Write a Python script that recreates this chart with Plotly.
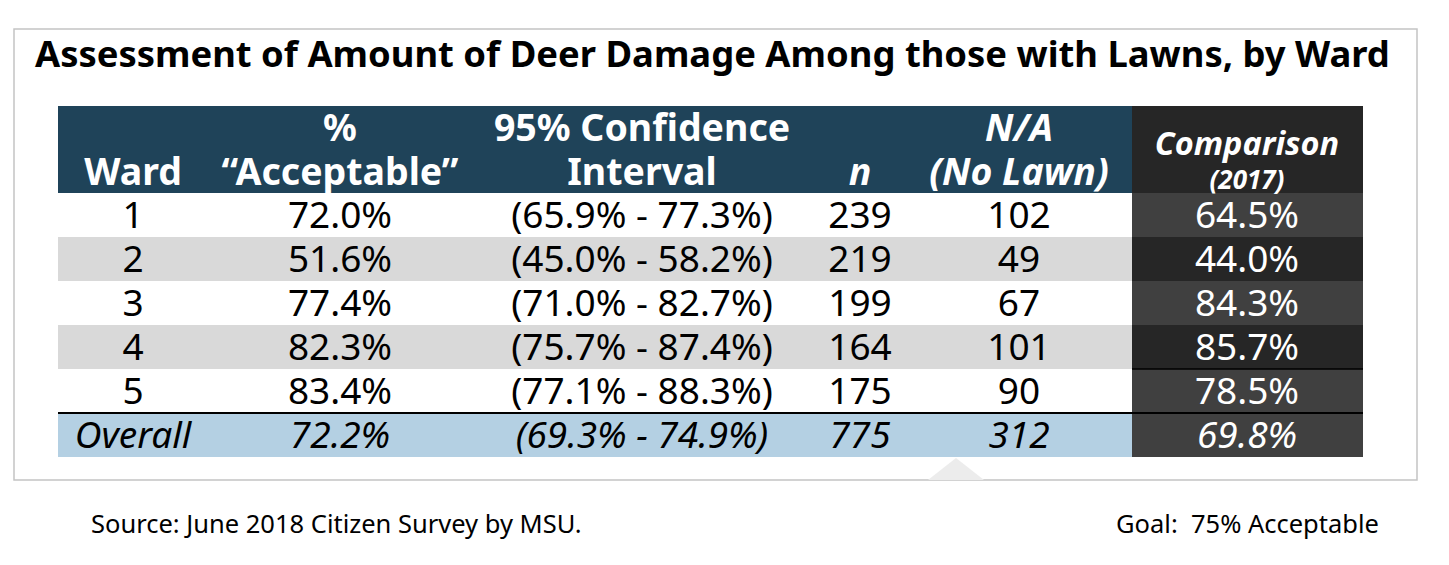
import plotly.graph_objects as go

# ---------------- data ----------------
wards = ["1", "2", "3", "4", "5", "Overall"]
pct_acceptable = [72.0, 51.6, 77.4, 82.3, 83.4, 72.2]
ci_low = [65.9, 45.0, 71.0, 75.7, 77.1, 69.3]
ci_high = [77.3, 58.2, 82.7, 87.4, 88.3, 74.9]
n_resp = [239, 219, 199, 164, 175, 775]
na_no_lawn = [102, 49, 67, 101, 90, 312]
comparison_2017 = [64.5, 44.0, 84.3, 85.7, 78.5, 69.8]

header_line1 = ["", "%", "95% Confidence", "", "N/A", "Comparison"]
header_line2 = ["Ward", "“Acceptable”", "Interval", "n", "(No Lawn)", "(2017)"]

title_text = "Assessment of Amount of Deer Damage Among those with Lawns, by Ward"
source_text = "Source: June 2018 Citizen Survey by MSU."
goal_text = "Goal:  75% Acceptable"

# ---------------- layout constants ----------------
W, H = 1449, 565
TABLE_LEFT, SPLIT, TABLE_RIGHT = 58, 1132, 1363
TABLE_TOP, HEADER_H, ROW_H = 106, 87, 44
COL_CENTERS = [133, 340, 642, 860, 1019, 1247]
TEXT_DY = 3.5                    # small downward nudge of text inside cells
HDR_Y1, HDR_Y2 = 22, 66          # offsets inside header (left block)
HDR_CMP_Y1, HDR_CMP_Y2 = 37, 73  # offsets inside header (comparison column)

FONT = "Noto Sans, sans-serif"
FONT2 = "Noto Sans, Open Sans, sans-serif"
BODY_SIZE = 37
HEAD_SIZE = 37.5

palette = ["#ffffff", "#d9d9d9", "#b4d0e3", "#1f4359", "#404040", "#262626"]

nrows = len(wards)
y_edges = [TABLE_TOP, TABLE_TOP + HEADER_H] + [TABLE_TOP + HEADER_H + ROW_H * (i + 1) for i in range(nrows)]
x_edges = [TABLE_LEFT, SPLIT, TABLE_RIGHT]

z = [[3, 5]]
for i in range(nrows):
    if i == nrows - 1:
        z.append([2, 4])
    else:
        z.append([0 if i % 2 == 0 else 1, 4 if i % 2 == 0 else 5])

k = len(palette)
colorscale = []
for j, c in enumerate(palette):
    colorscale.append([j / k, c])
    colorscale.append([(j + 1) / k, c])

fig = go.Figure()
fig.add_trace(go.Heatmap(
    x=x_edges, y=y_edges, z=z, colorscale=colorscale, zmin=-0.5, zmax=k - 0.5,
    showscale=False, hoverinfo="skip", xgap=0, ygap=0,
))

# body text
row_centers = [TABLE_TOP + HEADER_H + ROW_H * (i + 0.5) + TEXT_DY for i in range(nrows)]
for c in range(6):
    texts = []
    for i in range(nrows):
        vals = [
            wards[i],
            f"{pct_acceptable[i]:.1f}%",
            f"({ci_low[i]:.1f}% - {ci_high[i]:.1f}%)",
            str(n_resp[i]),
            str(na_no_lawn[i]),
            f"{comparison_2017[i]:.1f}%",
        ]
        t = vals[c]
        if i == nrows - 1:
            t = f"<i>{t}</i>"
        texts.append(t)
    fig.add_trace(go.Scatter(
        x=[COL_CENTERS[c]] * nrows, y=row_centers, mode="text", text=texts,
        textposition="middle center", hoverinfo="skip", showlegend=False,
        textfont=dict(family=FONT, size=BODY_SIZE, color="#ffffff" if c == 5 else "#000000"),
    ))

# header text
for c in range(5):
    italic = c >= 3
    for line, off in ((header_line1, HDR_Y1), (header_line2, HDR_Y2)):
        t = line[c]
        if not t:
            continue
        t = f"<b>{t}</b>"
        if italic:
            t = f"<i>{t}</i>"
        fig.add_trace(go.Scatter(
            x=[COL_CENTERS[c]], y=[TABLE_TOP + off + TEXT_DY], mode="text", text=[t],
            textposition="middle center", hoverinfo="skip", showlegend=False,
            textfont=dict(family=FONT, size=HEAD_SIZE, color="#ffffff"),
        ))
for line, off, size in ((header_line1, HDR_CMP_Y1, 32.5), (header_line2, HDR_CMP_Y2, 26)):
    fig.add_trace(go.Scatter(
        x=[COL_CENTERS[5]], y=[TABLE_TOP + off + TEXT_DY], mode="text", text=[f"<i><b>{line[5]}</b></i>"],
        textposition="middle center", hoverinfo="skip", showlegend=False,
        textfont=dict(family=FONT, size=size, color="#ffffff"),
    ))

# decorations
shapes = [
    dict(type="rect", xref="x", yref="y", x0=14, y0=29, x1=1417, y1=480,
         line=dict(color="#c4c4c4", width=1.5), fillcolor="rgba(0,0,0,0)", layer="below"),
    dict(type="path", xref="x", yref="y", path="M 928 480 L 956 458 L 984 480 Z",
         fillcolor="#ececec", line=dict(width=0), layer="below"),
    dict(type="line", xref="x", yref="y", x0=TABLE_LEFT, x1=TABLE_RIGHT,
         y0=y_edges[-2], y1=y_edges[-2], line=dict(color="#000000", width=2)),
    dict(type="line", xref="x", yref="y", x0=SPLIT, x1=TABLE_RIGHT,
         y0=y_edges[-3], y1=y_edges[-3], line=dict(color="#000000", width=1.5)),
]

annotations = [
    dict(text=f"<b>{title_text}</b>", x=33, y=53, xref="x", yref="y", xanchor="left",
         yanchor="middle", showarrow=False, font=dict(family=FONT, size=36.4, color="#000000")),
    dict(text=source_text, x=89, y=523, xref="x", yref="y", xanchor="left", yanchor="middle",
         showarrow=False, font=dict(family=FONT2, size=25.5, color="#000000")),
    dict(text=goal_text, x=1381, y=523, xref="x", yref="y", xanchor="right", yanchor="middle",
         showarrow=False, font=dict(family=FONT2, size=25.5, color="#000000")),
]

fig.update_layout(
    width=W, height=H, margin=dict(l=0, r=0, t=0, b=0),
    paper_bgcolor="#ffffff", plot_bgcolor="#ffffff",
    xaxis=dict(range=[0, W], visible=False, fixedrange=True, domain=[0, 1]),
    yaxis=dict(range=[H, 0], visible=False, fixedrange=True, domain=[0, 1]),
    shapes=shapes, annotations=annotations, showlegend=False,
)

fig.write_html("out.html", post_script="document.body.style.margin='0';",
               config={"displayModeBar": False})
